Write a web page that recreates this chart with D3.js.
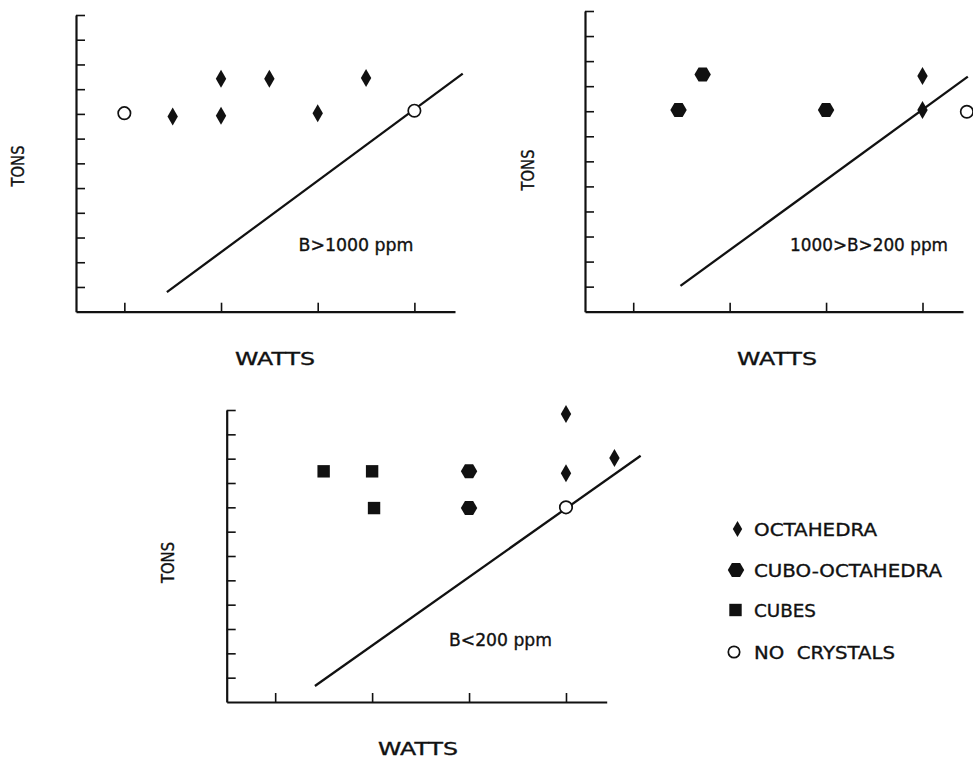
<!DOCTYPE html>
<html>
<head>
<meta charset="utf-8">
<script src="https://cdn.jsdelivr.net/npm/d3@7"></script>
<style>
  body { margin: 0; background: #fff; }
  text { font-family: "DejaVu Sans", sans-serif; fill: #111; stroke: #111; stroke-width: 0.35px; }
</style>
</head>
<body>
<svg id="chart" width="973" height="758"></svg>
<script>
// ---- data -------------------------------------------------------------
const panelLabels = ["B>1000 ppm", "1000>B>200 ppm", "B<200 ppm"];
const xTickValues = [1, 2, 3, 4];
const yTickValues = [1, 2, 3, 4, 5, 6, 7, 8, 9, 10, 11, 12];
const crystalTypes = ["OCTAHEDRA", "CUBO-OCTAHEDRA", "CUBES", "NO  CRYSTALS"];
const xTitle = "WATTS";
const yTitle = "TONS";

// observations: [watts, tons, crystal type index]
const highBoron = [
  [1.0, 8.03, 3], [4.0, 8.13, 3],
  [1.5, 7.89, 0], [2.0, 7.93, 0], [3.0, 8.03, 0],
  [2.0, 9.42, 0], [2.5, 9.42, 0], [3.5, 9.45, 0]
];
const midBoron = [
  [1.47, 8.05, 1], [1.72, 9.47, 1], [3.0, 8.05, 1],
  [4.0, 9.41, 0], [4.0, 8.05, 0],
  [4.46, 7.98, 3]
];
const lowBoron = [
  [1.5, 9.48, 2], [2.0, 9.48, 2], [2.02, 7.97, 2],
  [3.0, 9.48, 1], [3.0, 7.97, 1],
  [4.0, 11.84, 0], [4.0, 9.4, 0], [4.5, 10.03, 0],
  [4.0, 8.0, 3]
];

// boundary lines: [[watts, tons], [watts, tons]]
const highBoundary = [[1.44, 0.79], [4.5, 9.63]];
const midBoundary = [[1.49, 1.03], [4.47, 9.38]];
const lowBoundary = [[1.41, 0.66], [4.77, 10.12]];

// ---- layout -----------------------------------------------------------
const panels = [
  { label: panelLabels[0], points: highBoron, boundary: highBoundary,
    left: 76, bottom: 311.7, top: 15, width: 379,
    labelPos: [298.5, 250.5, 115], tonsPos: [17.5, 166], wattsPos: [275, 365] },
  { label: panelLabels[1], points: midBoron, boundary: midBoundary,
    left: 585, bottom: 311.7, top: 11, width: 378,
    labelPos: [790, 251, 158], tonsPos: [527.5, 170], wattsPos: [777, 365] },
  { label: panelLabels[2], points: lowBoron, boundary: lowBoundary,
    left: 226.7, bottom: 702, top: 410, width: 380,
    labelPos: [449, 645.5, 103], tonsPos: [168, 562.5], wattsPos: [418, 754.5] }
];

const ink = "#111";
const fontSize = 17;
const svg = d3.select("#chart");

// marker shapes for the crystal habits
function markerPath(type, s) {
  s = s || 1;
  if (type === 0) { // diamond
    const w = 5.2 * s, h = 9 * s;
    return `M0,${-h}L${w},0L0,${h}L${-w},0Z`;
  }
  if (type === 1) { // hexagon
    const w = 8.2 * s, h = 7 * s;
    return `M${-w},0L${-w / 2},${-h}L${w / 2},${-h}L${w},0L${w / 2},${h}L${-w / 2},${h}Z`;
  }
  if (type === 2) { // square
    const a = 6.2 * s;
    return `M${-a},${-a}H${a}V${a}H${-a}Z`;
  }
  return null;
}

function drawMarker(g, type, x, y, s) {
  if (type === 3) {
    g.append("circle").attr("cx", x).attr("cy", y).attr("r", 6.2 * (s || 1))
      .attr("fill", "#fff").attr("stroke", ink).attr("stroke-width", 1.7);
  } else {
    g.append("path").attr("transform", `translate(${x},${y})`)
      .attr("d", markerPath(type, s)).attr("fill", ink);
  }
}

panels.forEach(p => {
  const x = d3.scaleLinear().domain([0.5, 4.42]).range([p.left, p.left + p.width]);
  const y = d3.scaleLinear().domain([0, 12]).range([p.bottom, p.top]);
  const g = svg.append("g");

  // x axis with ticks pointing up into the plot
  const xAxis = d3.axisBottom(x).tickValues(xTickValues).tickSize(-9).tickFormat("").tickSizeOuter(0);
  const gx = g.append("g").attr("transform", `translate(0,${p.bottom})`).call(xAxis);
  // y axis with ticks pointing right into the plot
  const yAxis = d3.axisLeft(y).tickValues(yTickValues).tickSize(-9).tickFormat("").tickSizeOuter(0);
  const gy = g.append("g").attr("transform", `translate(${p.left},0)`).call(yAxis);

  [gx, gy].forEach(a => {
    a.select(".domain").attr("stroke", ink).attr("stroke-width", 2.2);
    a.selectAll(".tick line").attr("stroke", ink).attr("stroke-width", 1.6);
  });

  // boundary line
  g.append("line")
    .attr("x1", x(p.boundary[0][0])).attr("y1", y(p.boundary[0][1]))
    .attr("x2", x(p.boundary[1][0])).attr("y2", y(p.boundary[1][1]))
    .attr("stroke", ink).attr("stroke-width", 2.3);

  // observations
  p.points.forEach(d => drawMarker(g, d[2], x(d[0]), y(d[1]), 1));

  // boron label
  g.append("text").attr("x", p.labelPos[0]).attr("y", p.labelPos[1])
    .attr("font-size", fontSize).attr("textLength", p.labelPos[2])
    .attr("lengthAdjust", "spacingAndGlyphs").text(p.label);

  // axis titles
  g.append("text").attr("x", p.wattsPos[0]).attr("y", p.wattsPos[1])
    .attr("text-anchor", "middle").attr("font-size", fontSize)
    .attr("textLength", 80).attr("lengthAdjust", "spacingAndGlyphs").text(xTitle);
  g.append("text")
    .attr("transform", `translate(${p.tonsPos[0] + 6},${p.tonsPos[1]}) rotate(-90)`)
    .attr("text-anchor", "middle").attr("font-size", fontSize)
    .attr("textLength", 41).attr("lengthAdjust", "spacingAndGlyphs").text(yTitle);
});

// legend
const legendRows = [529, 570, 610, 652];
const legendWidths = [123, 188, 62, 141];
const legendMarkX = [737.5, 736, 735.5, 734];
const legend = svg.append("g");
crystalTypes.forEach((name, i) => {
  drawMarker(legend, i, legendMarkX[i], legendRows[i], i === 3 ? 0.92 : (i === 0 ? 0.9 : 1));
  legend.append("text").attr("x", 754).attr("y", legendRows[i] + 6.5)
    .attr("font-size", fontSize).attr("textLength", legendWidths[i])
    .attr("lengthAdjust", "spacingAndGlyphs")
    .style("white-space", "pre").text(name);
});
</script>
</body>
</html>
